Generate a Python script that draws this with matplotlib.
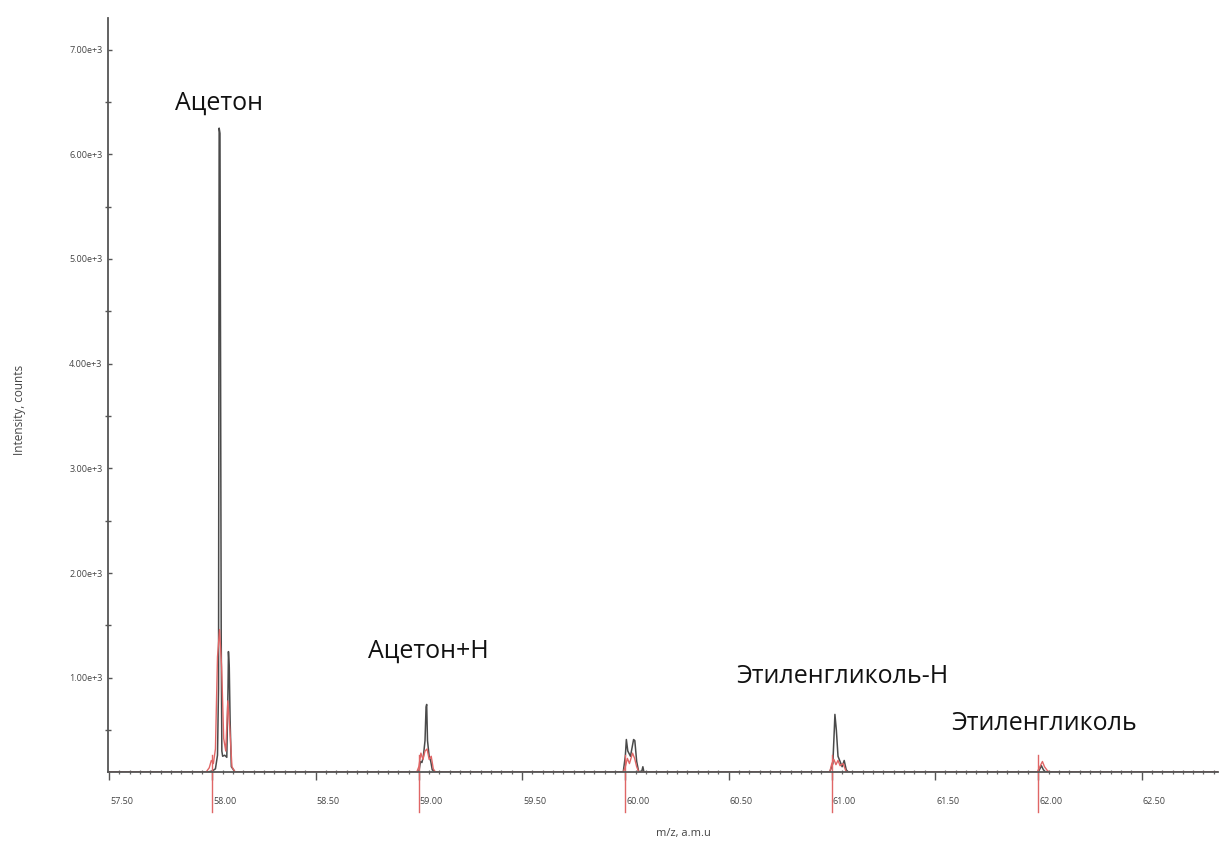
import numpy as np
import matplotlib.pyplot as plt
from matplotlib.ticker import MultipleLocator, FixedLocator, FuncFormatter
from matplotlib.transforms import ScaledTranslation

plt.rcParams['font.family'] = ['Open Sans', 'DejaVu Sans']

# Measured spectrum (black trace), m/z and intensity in counts
mz_measured = [57.50, 57.98, 58.000, 58.015, 58.025, 58.030, 58.033, 58.037, 58.040,
               58.043, 58.046, 58.050, 58.060, 58.070, 58.076, 58.078, 58.082, 58.086,
               58.092, 58.110,
               59.000, 59.008, 59.015, 59.022, 59.030, 59.035, 59.038, 59.042, 59.050,
               59.058, 59.065, 59.080,
               59.990, 60.000, 60.005, 60.012, 60.025, 60.040, 60.046, 60.055, 60.065,
               60.080, 60.085, 60.090,
               60.990, 61.005, 61.012, 61.015, 61.022, 61.030, 61.040, 61.050, 61.060,
               61.070, 61.080,
               62.000, 62.015, 62.025, 62.035, 62.87]
int_measured = [100, 100, 110, 130, 260, 900, 6250, 6200, 3900,
                1400, 300, 250, 260, 240, 900, 1250, 1100, 600,
                150, 100,
                100, 200, 190, 250, 400, 720, 745, 400, 250,
                200, 120, 100,
                100, 250, 410, 300, 250, 410, 400, 200, 100,
                110, 150, 100,
                100, 180, 500, 650, 500, 250, 200, 150, 210,
                120, 100,
                100, 160, 120, 100, 100]

# Reference / fitted profile (red trace)
mz_profile = [57.50, 57.970, 57.985, 57.995, 58.005, 58.015, 58.025, 58.035, 58.045,
              58.055, 58.065, 58.075, 58.085, 58.095, 58.110,
              58.990, 59.000, 59.010, 59.020, 59.030, 59.040, 59.050, 59.060, 59.070,
              59.080,
              59.990, 60.000, 60.010, 60.020, 60.035, 60.045, 60.055, 60.065,
              60.990, 61.000, 61.010, 61.020, 61.030, 61.040, 61.055, 61.070,
              61.995, 62.010, 62.020, 62.030, 62.045, 62.060, 62.87]
int_profile = [100, 100, 140, 210, 180, 320, 1200, 1460, 1100,
               420, 300, 780, 500, 150, 100,
               100, 150, 280, 220, 300, 320, 220, 250, 130,
               100,
               100, 150, 230, 180, 280, 230, 150, 100,
               100, 180, 220, 170, 210, 160, 180, 100,
               100, 160, 200, 150, 110, 100, 100]

# Nominal masses marked below the axis
nominal_mz = [58.0, 59.0, 60.0, 61.0, 62.0]

# Compound annotations: text, m/z, intensity
label_texts = ["Ацетон", "Ацетон+Н", "Этиленгликоль-Н", "Этиленгликоль"]
label_mz = [57.818, 58.753, 60.539, 61.576]
label_int = [6485, 1251, 1012, 564]

fig = plt.figure(figsize=(12.21, 8.46), dpi=100)
ax = fig.add_axes([0.0885, 0.0875, 0.909, 0.891])

ax.plot(mz_measured, int_measured, color="#4a4a4a", linewidth=1.1, zorder=2)
ax.plot(mz_profile, int_profile, color="#e06666", linewidth=1.0, zorder=2.1)

for x in nominal_mz:
    ax.axvline(x, ymin=-0.053, ymax=0.023, color="#e06666", linewidth=1.0,
               clip_on=False)

for txt, x, y in zip(label_texts, label_mz, label_int):
    ax.text(x, y, txt, fontsize=18, ha="left", va="center", color="#111111")

ax.set_xlim(57.495, 62.87)
ax.set_ylim(100, 7300)

# Axis styling
for side in ["top", "right"]:
    ax.spines[side].set_visible(False)
for side in ["left", "bottom"]:
    ax.spines[side].set_color("#555555")
    ax.spines[side].set_linewidth(1.3)
    ax.spines[side].set_zorder(3)

ax.xaxis.set_major_locator(MultipleLocator(0.5))
ax.xaxis.set_minor_locator(MultipleLocator(0.05))
ax.xaxis.set_major_formatter(FuncFormatter(lambda v, p: f"{v:.2f}"))
ax.tick_params(axis="x", which="major", direction="out", length=6, width=1,
               color="#555555", labelsize=6.5, labelcolor="#444444", pad=12)
ax.tick_params(axis="x", which="minor", direction="inout", length=3.5, width=0.9,
               color="#666666")
shift = ScaledTranslation(1 / 100, 0, fig.dpi_scale_trans)
for lbl in ax.get_xticklabels():
    lbl.set_horizontalalignment("left")
    lbl.set_transform(lbl.get_transform() + shift)

ax.yaxis.set_major_locator(FixedLocator([1000, 2000, 3000, 4000, 5000, 6000, 7000]))
ax.yaxis.set_minor_locator(FixedLocator([500, 1500, 2500, 3500, 4500, 5500, 6500]))
ax.yaxis.set_major_formatter(FuncFormatter(lambda v, p: f"{v / 1000:.2f}e+3"))
ax.tick_params(axis="y", which="major", direction="in", length=3, width=1,
               color="#555555", labelsize=6.5, labelcolor="#444444", pad=4)
ax.tick_params(axis="y", which="minor", direction="inout", length=4, width=1,
               color="#555555")

fig.text(20 / 1221, 1 - 410 / 846, "Intensity, counts", rotation=90,
         ha="center", va="center", fontsize=8.5, color="#444444")
fig.text(683 / 1221, 1 - 833 / 846, "m/z, a.m.u", ha="center", va="center",
         fontsize=8, color="#444444")

fig.savefig("out.png", dpi=100)
